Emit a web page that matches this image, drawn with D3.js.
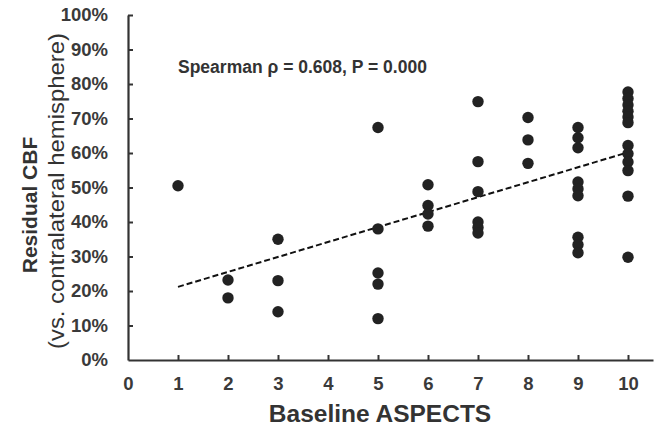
<!DOCTYPE html>
<html>
<head>
<meta charset="utf-8">
<script src="https://cdn.jsdelivr.net/npm/d3@7"></script>
<style>
  body { margin: 0; background: #fff; }
  svg text { font-family: "Liberation Sans", Arial, sans-serif; }
</style>
</head>
<body>
<svg class="js-graph" width="656" height="428"></svg>
<script>
// ASPECTS score of each patient
var aspects = [
  1,
  2, 2,
  3, 3, 3,
  5, 5, 5, 5, 5,
  6, 6, 6, 6,
  7, 7, 7, 7, 7, 7,
  8, 8, 8,
  9, 9, 9, 9, 9, 9, 9, 9, 9,
  10, 10, 10, 10, 10, 10, 10, 10, 10, 10, 10, 10
];
// residual CBF (%) of each patient, same order
var residualCbf = [
  50.5,
  23.2, 18,
  35, 23, 14,
  67.4, 38, 25.2, 22, 12,
  50.8, 44.8, 42.3, 38.8,
  74.9, 57.5, 48.8, 40, 38.4, 36.8,
  70.3, 63.8, 57,
  67.4, 64.4, 61.5, 51.6, 49.6, 47.6, 35.6, 33.4, 31.1,
  77.7, 75.8, 73.9, 72.1, 70.4, 68.8, 62.2, 59.8, 57.4, 54.9, 47.5, 29.8
];
// dashed trend line end points
var trendX = [1, 10];
var trendY = [21.2, 60.2];

var xTicks = [0, 1, 2, 3, 4, 5, 6, 7, 8, 9, 10];
var yTicks = [0, 10, 20, 30, 40, 50, 60, 70, 80, 90, 100];

(function drawChart(d3) {
  var svg = d3.select('.js-graph');
  var margin = { top: 15, right: 3, bottom: 68, left: 128 };
  var width = 656, height = 428;

  var x = d3.scaleLinear().domain([0, 10.5]).range([margin.left, width - margin.right]);
  var y = d3.scaleLinear().domain([0, 100]).range([height - margin.bottom, margin.top]);

  var ink = '#333';

  // Y AXIS
  var yAxis = svg.append('g')
    .attr('transform', 'translate(' + margin.left + ',0)')
    .call(d3.axisLeft(y).tickValues(yTicks).tickSize(-5).tickSizeOuter(0).tickPadding(20)
      .tickFormat(function (d) { return d + '%'; }));

  // X AXIS
  var xAxis = svg.append('g')
    .attr('transform', 'translate(0,' + (height - margin.bottom) + ')')
    .call(d3.axisBottom(x).tickValues(xTicks).tickSize(-5).tickSizeOuter(0).tickPadding(17));

  [yAxis, xAxis].forEach(function (ax) {
    ax.select('.domain').attr('stroke', ink).attr('stroke-width', 2.2);
    ax.selectAll('.tick line').attr('stroke', ink).attr('stroke-width', 2);
    ax.selectAll('.tick text')
      .attr('fill', '#3a3a3a')
      .style('font-size', '18.5px')
      .style('font-weight', 'bold');
  });
  xAxis.selectAll('.tick').filter(function (d) { return d === 0; }).select('line').remove();
  yAxis.selectAll('.tick').filter(function (d) { return d === 0; }).select('line').remove();

  // trend line
  svg.append('line')
    .attr('x1', x(trendX[0])).attr('y1', y(trendY[0]))
    .attr('x2', x(trendX[1])).attr('y2', y(trendY[1]))
    .attr('stroke', '#111')
    .attr('stroke-width', 2)
    .attr('stroke-dasharray', '6,3');

  // points
  svg.append('g').selectAll('circle')
    .data(aspects)
    .enter().append('circle')
    .attr('cx', function (d) { return x(d); })
    .attr('cy', function (d, i) { return y(residualCbf[i]); })
    .attr('r', 5.7)
    .attr('fill', '#222');

  // annotation
  svg.append('text')
    .attr('x', 178).attr('y', 73)
    .attr('fill', '#333')
    .style('font-size', '17.5px')
    .style('font-weight', 'bold')
    .text('Spearman \u03c1 = 0.608, P = 0.000');

  // axis titles
  svg.append('text')
    .attr('transform', 'translate(380,422)')
    .attr('text-anchor', 'middle')
    .attr('fill', '#333')
    .style('font-size', '24.5px')
    .style('font-weight', 'bold')
    .text('Baseline ASPECTS');

  svg.append('text')
    .attr('transform', 'translate(37,205) rotate(-90)')
    .attr('text-anchor', 'middle')
    .attr('fill', '#333')
    .style('font-size', '21px')
    .style('font-weight', 'bold')
    .text('Residual CBF');

  svg.append('text')
    .attr('transform', 'translate(64,191) rotate(-90)')
    .attr('text-anchor', 'middle')
    .attr('textLength', 316)
    .attr('lengthAdjust', 'spacingAndGlyphs')
    .attr('fill', '#333')
    .style('font-size', '22px')
    .text('(vs. contralateral hemisphere)');
}(d3));
</script>
</body>
</html>
